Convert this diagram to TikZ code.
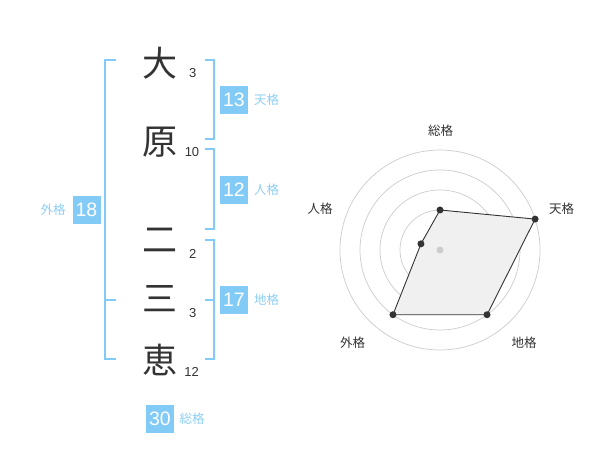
\documentclass[tikz,border=0pt]{standalone}
\usepackage{fontspec}
\setmainfont{Liberation Sans}
\newfontfamily\cjk{Noto Sans CJK JP}
\definecolor{bl}{HTML}{82CBF7}
\definecolor{bltext}{HTML}{8DCFF5}
\definecolor{ink}{HTML}{333333}
\definecolor{ring}{HTML}{CCCCCC}
\definecolor{area}{HTML}{F0F0F0}
\tikzset{
  brk/.style={draw=bl, line width=2pt},
  kanji/.style={inner sep=0pt, text=ink, font=\cjk\fontsize{35}{35}\selectfont},
  strokes/.style={inner sep=0pt, text=ink, font=\fontsize{13}{13}\selectfont},
  scorebox/.style={fill=bl, text=white, minimum size=28pt, inner sep=0pt, font=\fontsize{19.5}{19.5}\selectfont},
  kaku/.style={inner sep=0pt, text=bltext, font=\cjk\fontsize{12.5}{12.5}\selectfont},
  axislab/.style={inner sep=0pt, text=ink, font=\cjk\fontsize{12.5}{12.5}\selectfont},
  dot/.style={circle, fill=ink, inner sep=0pt, minimum size=7pt},
}
\begin{document}
\begin{tikzpicture}[x=1pt,y=-1pt]
\useasboundingbox[fill=white] (0,0) rectangle (600,470);

% characters
\node[kanji] (c1) at (160,63) {大};
\node[kanji] (c2) at (160,142) {原};
\node[kanji] (c3) at (160,240) {二};
\node[kanji] (c4) at (160,299) {三};
\node[kanji] (c5) at (160,360) {恵};

\node[strokes] (n1) at (192.7,73.3) {3};
\node[strokes] (n2) at (192,152) {10};
\node[strokes] (n3) at (192.7,254) {2};
\node[strokes] (n4) at (192.7,312.7) {3};
\node[strokes] (n5) at (191.7,371.7) {12};

% brackets
\draw[brk] (116,60) -- (105,60) -- (105,359) -- (116,359);
\draw[brk] (105,300) -- (116,300);
\draw[brk] (205,60) -- (214,60) -- (214,139) -- (205,139);
\draw[brk] (205,149) -- (214,149) -- (214,229) -- (205,229);
\draw[brk] (205,240) -- (214,240) -- (214,359) -- (205,359);
\draw[brk] (205,300) -- (214,300);

% score boxes
\node[scorebox] (ten) at (234,100) {13};
\node[kaku, anchor=west] (tenl) at (254,100) {天格};
\node[scorebox] (jin) at (234,190) {12};
\node[kaku, anchor=west] (jinl) at (254,190) {人格};
\node[scorebox] (chi) at (234,300) {17};
\node[kaku, anchor=west] (chil) at (254,300) {地格};
\node[scorebox] (gai) at (86.5,210) {18};
\node[kaku] (gail) at (53,210) {外格};
\node[scorebox] (sou) at (160,419) {30};
\node[kaku] (soul) at (192,419) {総格};

% radar chart
\begin{scope}[shift={(440,250)}, y=1pt]
  \foreach \r in {20,40,60,80,100} \draw[ring, line width=0.7pt] (0,0) circle (\r);
  \coordinate (pS) at (90:40);
  \coordinate (pT) at (18:100);
  \coordinate (pC) at (-54:80);
  \coordinate (pG) at (-126:80);
  \coordinate (pJ) at (162:20);
  \draw[fill=area, draw=ink, line width=0.9pt] (pS) -- (pT) -- (pC) -- (pG) -- (pJ) -- cycle;
  \foreach \p in {pS,pT,pC,pG,pJ} \node[dot] at (\p) {};
  \node[circle, fill=ring, inner sep=0pt, minimum size=7pt] (ctr) at (0,0) {};
\end{scope}
\node[axislab] (lS) at (440.7,130.7) {総格};
\node[axislab] (lT) at (561.7,209) {天格};
\node[axislab] (lC) at (524,342.3) {地格};
\node[axislab] (lG) at (352.7,342.3) {外格};
\node[axislab] (lJ) at (320,209) {人格};
\end{tikzpicture}
\end{document}
